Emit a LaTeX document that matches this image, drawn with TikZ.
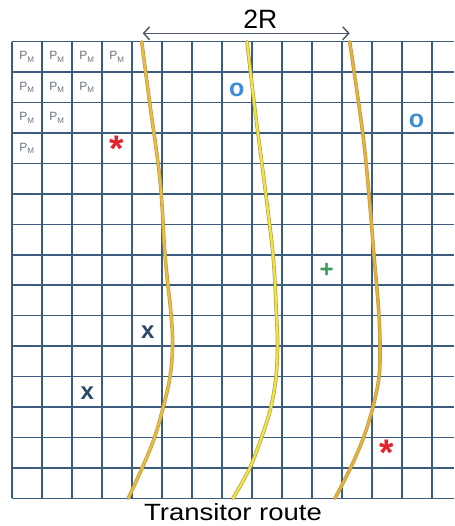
\documentclass[tikz,border=0pt]{standalone}
\usepackage{fontspec}
\setmainfont{Liberation Sans}
\usetikzlibrary{arrows.meta}
\definecolor{gridc}{HTML}{3A5C7E}
\definecolor{pmc}{HTML}{6A7480}
\definecolor{arrc}{HTML}{4A5868}
\definecolor{oc}{HTML}{3B8ED6}
\definecolor{xc}{HTML}{2B4868}
\definecolor{plc}{HTML}{3A9A60}
\definecolor{astc}{HTML}{E8202A}
\definecolor{edgec}{HTML}{B89A5A}
\definecolor{goldc}{HTML}{EBBE35}
\definecolor{yelc}{HTML}{EDE83A}
\definecolor{orgc}{HTML}{EAB232}
\tikzset{
  gridline/.style={draw=gridc, line width=1.6pt},
  pm/.style={inner sep=0pt, text=pmc, font=\fontsize{12}{12}\selectfont},
  sym/.style={inner sep=0pt, anchor=center},
  curveedge/.style={draw=edgec, line width=3.6pt, line cap=round},
  curvefill/.style={line width=2.2pt, line cap=round},
  dimarrow/.style={draw=arrc, line width=1.4pt, {Straight Barb[length=6pt,width=13pt]}-{Straight Barb[length=6pt,width=13pt]}}
}
\begin{document}
\begin{tikzpicture}[x=1pt,y=-1pt]
\useasboundingbox (0,0) rectangle (454,526);
% grid
\foreach \k in {0,...,14} \draw[gridline] ({11.7+30*\k},41.7) -- ({11.7+30*\k},498.3);
\foreach \r in {0,...,15} \draw[gridline] (11.7,{41.7+30.44*\r}) -- (454,{41.7+30.44*\r});
% P_M labels
\foreach \c/\r in {0/0,1/0,2/0,3/0,0/1,1/1,2/1,0/2,1/2,0/3}
  \node[pm] (pm\c\r) at ({26.7+30*\c},{56.9+30.44*\r}) {P\raisebox{-2.5pt}{\fontsize{8}{8}\selectfont M}};
% curves
\foreach \col/\pts in {goldc/{(141.7,41.7) (149.3,100) (160,180) (165,255) (171.2,316) (172.5,346) (170,377) (163,408) (154,439) (141.7,469) (128.3,498.3)},
                      yelc/{(247,41.7) (255,110) (264,180) (273,255) (276.5,316) (277.5,346) (276,377) (270.7,408) (261,439) (249.3,469) (233,498.3)},
                      orgc/{(349.7,41.7) (362.7,133) (369,195) (374,255.7) (376.7,286) (379,316) (380,346.7) (379,377) (372.7,408) (363,439) (350,469) (335,498.3)}}
{
  \draw[curveedge] plot[smooth, tension=0.6] coordinates {\pts};
  \draw[curvefill, draw=\col] plot[smooth, tension=0.6] coordinates {\pts};
}
% dimension arrow
\coordinate (aL) at (142.7,33.3);
\coordinate (aR) at (349.7,33.3);
\draw[dimarrow] (aL) -- (aR);
\node[anchor=base, inner sep=0pt, font=\fontsize{26.5}{28}\selectfont] (twoR) at (260.3,28.3) {2R};
% symbols
\node[sym, text=astc, font=\fontsize{37}{37}\selectfont\bfseries] (ast1) at (116.7,148.3) {*};
\node[sym, text=astc, font=\fontsize{37}{37}\selectfont\bfseries] (ast2) at (386.7,452.6) {*};
\node[sym, text=oc, font=\fontsize{25}{25}\selectfont\bfseries] (o1) at (236.7,89.8) {o};
\node[sym, text=oc, font=\fontsize{25}{25}\selectfont\bfseries] (o2) at (416.5,121.3) {o};
\node[sym, text=plc, font=\fontsize{24}{24}\selectfont\bfseries] (plus1) at (326.7,270.5) {+};
\node[sym, text=xc, font=\fontsize{24}{24}\selectfont\bfseries] (x1) at (147.7,332.3) {x};
\node[sym, text=xc, font=\fontsize{24}{24}\selectfont\bfseries] (x2) at (87.3,393) {x};
% caption
\node[anchor=base, inner sep=0pt, font=\fontsize{23.5}{25}\selectfont] (route) at (233,520.7) {\scalebox{1.17}[1]{Transitor route}};
\end{tikzpicture}
\end{document}
